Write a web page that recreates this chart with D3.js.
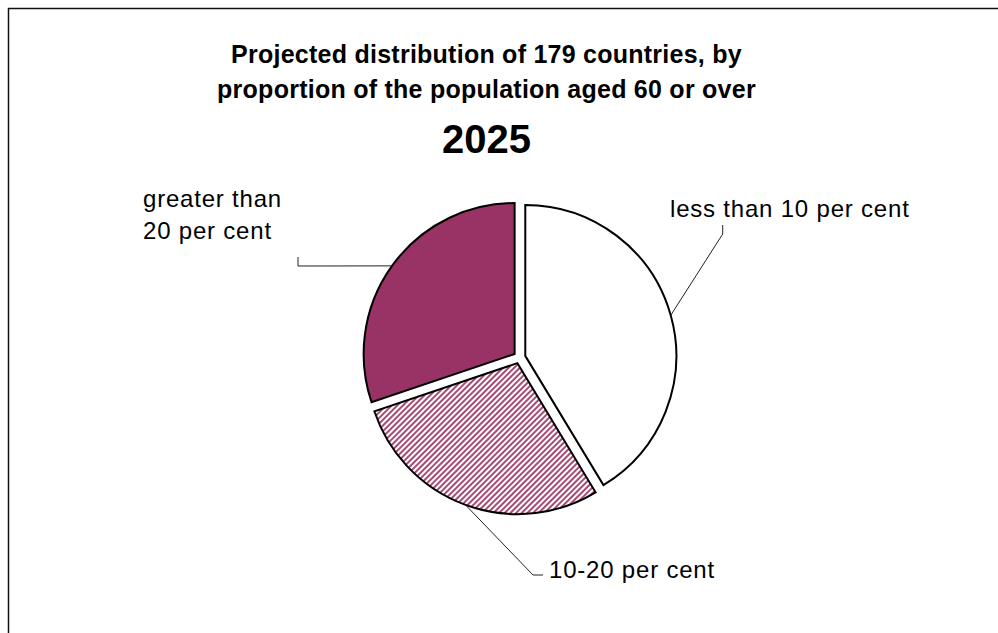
<!DOCTYPE html>
<html>
<head>
<meta charset="utf-8">
<script src="https://cdn.jsdelivr.net/npm/d3@7"></script>
<style>
  html, body { margin: 0; padding: 0; background: #fff; }
  svg { display: block; }
  text { font-family: "Liberation Sans", Arial, sans-serif; fill: #000; }
</style>
</head>
<body>
<svg id="chart" width="998" height="633"></svg>
<script>
// ---- data ----
const titleLines = ["Projected distribution of 179 countries, by", "proportion of the population aged 60 or over"];
const yearLabel = "2025";
const categories = ["less than 10 per cent", "10-20 per cent", "greater than 20 per cent"];
const labelLines = [["less than 10 per cent"], ["10-20 per cent"], ["greater than", "20 per cent"]];
const countryCounts = [74, 51, 54];

// ---- layout ----
const W = 998, H = 633;
const cx = 519.5, cy = 357.5, R = 151, explode = 6;
const svg = d3.select("#chart");

// frame
svg.append("rect").attr("x", 8.5).attr("y", 8.5).attr("width", W).attr("height", H)
  .attr("fill", "none").attr("stroke", "#111").attr("stroke-width", 1.5);

// pattern
const defs = svg.append("defs");
const pat = defs.append("pattern").attr("id", "stripes").attr("patternUnits", "userSpaceOnUse")
  .attr("width", 4).attr("height", 4).attr("patternTransform", "rotate(45)");
pat.append("rect").attr("width", 4).attr("height", 4).attr("fill", "#fff");
pat.append("rect").attr("x", 0).attr("width", 2).attr("height", 4).attr("fill", "#a84a76");

const fills = ["#ffffff", "url(#stripes)", "#993366"];

// titles
svg.append("text").attr("x", 486.5).attr("y", 63).attr("text-anchor", "middle")
  .style("font-size", "25px").style("font-weight", "bold").style("letter-spacing", "0.25px")
  .text(titleLines[0]);
svg.append("text").attr("x", 486.5).attr("y", 97.5).attr("text-anchor", "middle")
  .style("font-size", "25px").style("font-weight", "bold").style("letter-spacing", "0.25px")
  .text(titleLines[1]);
svg.append("text").attr("x", 486.5).attr("y", 153).attr("text-anchor", "middle")
  .style("font-size", "40px").style("font-weight", "bold").text(yearLabel);

// pie
const pie = d3.pie().sort(null).value(d => d).startAngle(0).endAngle(2 * Math.PI);
const arcs = pie(countryCounts);
const arc = d3.arc().innerRadius(0).outerRadius(R);

const g = svg.append("g").attr("transform", `translate(${cx},${cy})`);
arcs.forEach((a, i) => {
  const mid = (a.startAngle + a.endAngle) / 2;
  const ox = Math.sin(mid) * explode, oy = -Math.cos(mid) * explode;
  a.ox = ox; a.oy = oy; a.mid = mid;
  g.append("path").attr("d", arc(a)).attr("transform", `translate(${ox},${oy})`)
    .attr("fill", fills[i]).attr("stroke", "#000").attr("stroke-width", 2)
    .attr("stroke-linejoin", "miter");
});

// leader lines & labels
const leaderEnds = [
  [[722.7, 234], [722.7, 225]],
  [[533, 575], [543, 575]],
  [[298, 266], [298, 257]]
];
const labelPos = [
  {x: 670, y: 217, lh: 32},
  {x: 549, y: 578, lh: 32},
  {x: 143, y: 207, lh: 32}
];
const line = d3.line();
arcs.forEach((a, i) => {
  const sx = cx + a.ox + Math.sin(a.mid) * R;
  const sy = cy + a.oy - Math.cos(a.mid) * R;
  const pts = [[sx, sy]].concat(leaderEnds[i]);
  svg.append("path").attr("d", line(pts)).attr("fill", "none")
    .attr("stroke", "#222").attr("stroke-width", 1);
  const t = svg.append("text").style("font-size", "24px").style("letter-spacing", "0.8px");
  labelLines[i].forEach((s, j) => {
    t.append("tspan").attr("x", labelPos[i].x).attr("y", labelPos[i].y + j * labelPos[i].lh).text(s);
  });
});
</script>
</body>
</html>
